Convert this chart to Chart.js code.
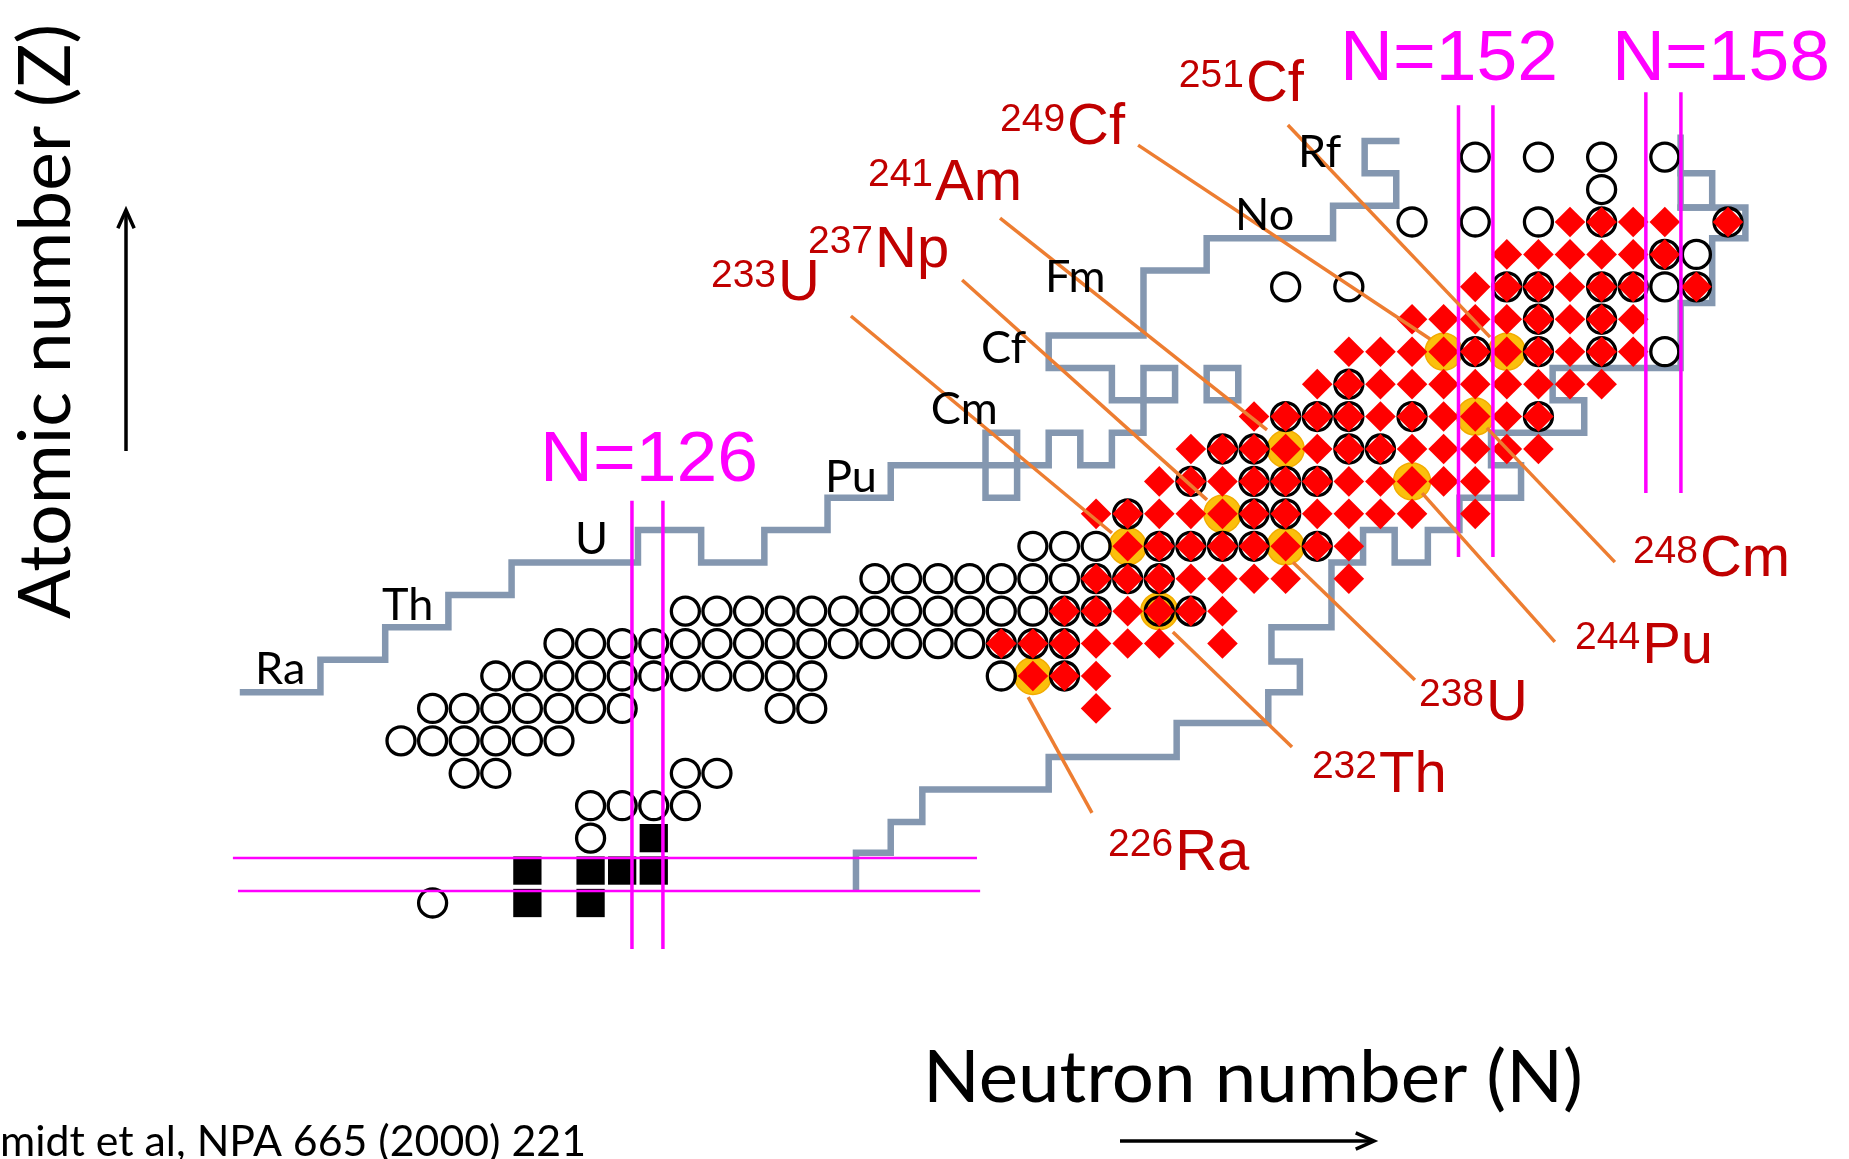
<!DOCTYPE html>
<html>
<head>
<meta charset="utf-8">
<title>Systems investigated in low-energy fission</title>
<script src="https://cdn.jsdelivr.net/npm/chart.js@4.4.1/dist/chart.umd.min.js"></script>
<style>
  html, body { margin: 0; padding: 0; background: #ffffff; }
  #c { display: block; }
</style>
</head>
<body>
<canvas id="c" width="1849" height="1159"></canvas>
<script>
// ---------- Nuclides, one row per proton number: [Z, [neutron numbers N]] ----------

// Fission of secondary beams (open circles)
const openCircleRows = [
  [81, [119]],
  [83, [124]],
  [84, [124, 125, 126, 127]],
  [85, [120, 121, 127, 128]],
  [86, [118, 119, 120, 121, 122, 123]],
  [87, [119, 120, 121, 122, 123, 124, 125, 130, 131]],
  [88, [121, 122, 123, 124, 125, 126, 127, 128, 129, 130, 131, 137, 139]],
  [89, [123, 124, 125, 126, 127, 128, 129, 130, 131, 132, 133, 134, 135, 136, 137, 138, 139]],
  [90, [127, 128, 129, 130, 131, 132, 133, 134, 135, 136, 137, 138, 139, 140, 142, 143]],
  [91, [133, 134, 135, 136, 137, 138, 139, 140, 141, 142]],
  [92, [138, 139, 140, 142, 143, 144, 145, 147]],
  [93, [141, 145, 146]],
  [94, [143, 145, 146, 147]],
  [95, [144, 145, 148, 149]],
  [96, [146, 147, 148, 150, 154]],
  [97, [148]],
  [98, [152, 154, 156, 158]],
  [99, [154, 156]],
  [100, [146, 148, 153, 154, 156, 157, 158, 159]],
  [101, [158, 159]],
  [102, [150, 152, 154, 156, 160]],
  [103, [156]],
  [104, [152, 154, 156, 158]]
];

// Fission studied in other experiments (red diamonds)
const diamondRows = [
  [87, [140]],
  [88, [138, 139, 140]],
  [89, [137, 138, 139, 140, 141, 142, 144]],
  [90, [139, 140, 141, 142, 143, 144]],
  [91, [140, 141, 142, 143, 144, 145, 146, 148]],
  [92, [141, 142, 143, 144, 145, 146, 147, 148]],
  [93, [140, 141, 142, 143, 144, 145, 146, 147, 148, 149, 150, 152]],
  [94, [142, 143, 144, 145, 146, 147, 148, 149, 150, 151, 152]],
  [95, [143, 144, 145, 146, 147, 148, 149, 150, 151, 152, 153, 154]],
  [96, [145, 146, 147, 148, 149, 150, 151, 152, 153, 154]],
  [97, [147, 148, 149, 150, 151, 152, 153, 154, 155, 156]],
  [98, [148, 149, 150, 151, 152, 153, 154, 155, 156, 157]],
  [99, [150, 151, 152, 153, 154, 155, 156, 157]],
  [100, [152, 153, 154, 155, 156, 157, 159]],
  [101, [153, 154, 155, 156, 157, 158]],
  [102, [155, 156, 157, 158, 160]]
];

// Stable nuclei around lead (black squares)
const stableRows = [
  [81, [122, 124]],
  [82, [122, 124, 125, 126]],
  [83, [126]]
];

// Named nuclides (gold markers with labels)
const labelMass = [226, 232, 233, 238, 237, 244, 241, 248, 249, 251];
const labelZ    = [88, 90, 92, 92, 93, 94, 95, 96, 98, 98];
const labelSym  = ['Ra', 'Th', 'U', 'U', 'Np', 'Pu', 'Am', 'Cm', 'Cf', 'Cf'];

// Element names written along the proton-rich edge
const elementSym = ['Ra', 'Th', 'U', 'Pu', 'Cm', 'Cf', 'Fm', 'No', 'Rf'];
const elementZ   = [88, 90, 92, 94, 96, 98, 100, 102, 104];

// Magic numbers marked by line pairs
const shellN = [126, 152, 158];
const shellZ = [82];

// ---------- Layout (in N / Z units of the chart) ----------
const labelAnchorN = [140.38, 146.83, 127.81, 150.22, 130.88, 155.16, 132.78, 156.99, 136.96, 142.62];
const labelAnchorZ = [82.02, 84.42, 99.59, 86.64, 100.61, 88.40, 102.68, 91.08, 104.40, 105.73];
const leaderFrom = [[137.85, 87.35], [142.43, 89.36], [140.50, 92.41], [146.23, 91.51], [143.51, 93.43],
                    [150.32, 93.64], [145.41, 95.59], [152.37, 95.65], [150.57, 98.39], [152.47, 98.45]];
const leaderTo   = [[139.87, 83.78], [146.20, 85.81], [132.24, 99.10], [150.09, 87.88], [135.76, 100.21],
                    [154.52, 89.05], [136.96, 102.12], [156.42, 91.51], [141.33, 104.37], [146.07, 104.99]];

const elementAnchorN = [113.38, 117.40, 123.51, 131.42, 134.77, 136.36, 138.38, 144.40, 146.39];
const elementAnchorZ = [87.75, 89.73, 91.76, 93.67, 95.77, 97.65, 99.84, 101.75, 103.70];

const shellLineN = [[125.31, 126.29], [151.47, 152.56], [157.40, 158.51]];
const shellLineZRange = [[79.58, 93.40], [91.67, 105.60], [93.64, 106.00]];
const shellLineZ = [[82.39, 81.37]];
const shellLineNRange = [[112.68, 136.23], [112.84, 136.33]];
const shellTextN = [122.40, 147.72, 156.33];
const shellTextZ = [94.01, 106.38, 106.38];

// Limits of the known nuclides
const protonSideEdge = [
  [113.0, 87.5], [115.45, 87.5], [115.45, 88.5], [117.5, 88.5], [117.5, 89.5], [119.5, 89.5],
  [119.5, 90.5], [121.5, 90.5], [121.5, 91.5], [125.5, 91.5], [125.5, 92.5], [127.5, 92.5],
  [127.5, 91.5], [129.5, 91.5], [129.5, 92.5], [131.5, 92.5], [131.5, 93.5], [133.5, 93.5],
  [133.5, 94.5], [138.5, 94.5], [138.5, 95.5], [139.5, 95.5], [139.5, 94.5], [140.5, 94.5],
  [140.5, 95.5], [141.5, 95.5], [141.5, 96.5], [140.5, 96.5], [140.5, 97.5], [138.5, 97.5],
  [138.5, 98.5], [141.5, 98.5], [141.5, 100.5], [143.5, 100.5], [143.5, 101.5], [147.5, 101.5],
  [147.5, 102.5], [149.5, 102.5], [149.5, 103.5], [148.5, 103.5], [148.5, 104.5], [149.5, 104.5]
];
const neutronSideEdge = [
  [132.4, 81.5], [132.4, 82.55], [133.5, 82.55], [133.5, 83.5], [134.5, 83.5], [134.5, 84.5],
  [138.5, 84.5], [138.5, 85.5], [142.55, 85.5], [142.55, 86.55], [145.45, 86.55], [145.45, 87.5],
  [146.45, 87.5], [146.45, 88.45], [145.55, 88.45], [145.55, 89.5], [147.45, 89.5], [147.45, 91.5],
  [148.45, 91.5], [148.45, 92.5], [149.45, 92.5], [149.45, 91.5], [150.5, 91.5], [150.5, 92.5],
  [151.5, 92.5], [151.5, 93.5], [153.45, 93.5], [153.45, 94.5], [152.5, 94.5], [152.5, 95.5],
  [155.45, 95.5], [155.45, 96.5], [154.45, 96.5], [154.45, 97.5], [158.5, 97.5], [158.5, 99.5],
  [159.5, 99.5], [159.5, 101.5], [160.55, 101.5], [160.55, 102.45], [158.5, 102.45], [158.5, 104.6]
];
const edgeIslands = [
  [[136.5, 93.5], [137.5, 93.5], [137.5, 95.5], [136.5, 95.5], [136.5, 93.5]],
  [[141.5, 96.5], [142.5, 96.5], [142.5, 97.5], [141.5, 97.5], [141.5, 96.5]],
  [[143.5, 96.5], [144.5, 96.5], [144.5, 97.5], [143.5, 97.5], [143.5, 96.5]],
  [[158.5, 102.45], [159.5, 102.45], [159.5, 103.5], [158.5, 103.5]]
];

// ---------- Helpers ----------
const EDGE = '#8497B0', MAGENTA = '#FF00FF', LEADER = '#ED7D31', RED_TXT = '#C00000';

function rowsToPoints(rows) {
  const pts = [];
  rows.forEach(([z, ns]) => ns.forEach(n => pts.push({ x: n, y: z })));
  return pts;
}
function polyline(points, color, width, order, cap) {
  return {
    type: 'line',
    data: points.map(([n, z]) => ({ x: n, y: z })),
    borderColor: color, borderWidth: width,
    pointRadius: 0, pointHoverRadius: 0, fill: false, tension: 0,
    borderJoinStyle: 'miter', borderCapStyle: cap || 'butt', order
  };
}

const datasets = [];

// known-nuclide limits
datasets.push(polyline(protonSideEdge, EDGE, 6.5, 6, 'square'));
datasets.push(polyline(neutronSideEdge, EDGE, 6.5, 6, 'square'));
edgeIslands.forEach(p => datasets.push(polyline(p, EDGE, 6.5, 6, 'square')));

// gold highlight discs
datasets.push({
  type: 'scatter',
  data: labelMass.map((a, i) => ({ x: a - labelZ[i], y: labelZ[i] })),
  pointStyle: 'circle', pointRadius: 18.5, pointHoverRadius: 18.5,
  backgroundColor: '#FBBF0C', borderColor: '#F2AC00', borderWidth: 1.5, order: 5
});
// open circles
datasets.push({
  type: 'scatter', data: rowsToPoints(openCircleRows),
  pointStyle: 'circle', pointRadius: 14, pointHoverRadius: 14,
  backgroundColor: 'rgba(0,0,0,0)', borderColor: '#000000', borderWidth: 3.3, order: 4
});
// red diamonds
datasets.push({
  type: 'scatter', data: rowsToPoints(diamondRows),
  pointStyle: 'rectRot', pointRadius: 15.3, pointHoverRadius: 15.3,
  backgroundColor: '#FF0000', borderColor: '#FF0000', borderWidth: 0, order: 3
});
// stable nuclei
datasets.push({
  type: 'scatter', data: rowsToPoints(stableRows),
  pointStyle: 'rect', pointRadius: 20, pointHoverRadius: 20,
  backgroundColor: '#000000', borderColor: '#000000', borderWidth: 0, order: 3
});
// shell-closure lines
shellN.forEach((n, i) => {
  const [z0, z1] = shellLineZRange[i];
  shellLineN[i].forEach(xn => datasets.push(polyline([[xn, z0], [xn, z1]], MAGENTA, 3.5, 1)));
});
shellZ.forEach((z, i) => {
  shellLineZ[i].forEach((yz, k) => {
    const [n0, n1] = shellLineNRange[k];
    datasets.push(polyline([[n0, yz], [n1, yz]], MAGENTA, 2.5, 1));
  });
});
// leader lines from labels to nuclides
leaderFrom.forEach((p, i) => datasets.push(polyline([p, leaderTo[i]], LEADER, 3.5, 0)));

// ---------- Text, titles and arrows ----------
function drawText(ctx, s, x, y, font, color, align, sx) {
  ctx.save();
  ctx.font = font;
  ctx.fillStyle = color;
  ctx.textAlign = align || 'left';
  ctx.textBaseline = 'alphabetic';
  ctx.translate(x, y);
  ctx.scale(sx || 1, 1);
  ctx.fillText(s, 0, 0);
  ctx.restore();
}
function textWidth(ctx, s, font) {
  ctx.save();
  ctx.font = font;
  const w = ctx.measureText(s).width;
  ctx.restore();
  return w;
}
function arrow(ctx, x0, y0, x1, y1) {
  const a = Math.atan2(y1 - y0, x1 - x0), L = 20, W = 0.42;
  ctx.save();
  ctx.strokeStyle = '#000'; ctx.lineWidth = 3.5; ctx.lineCap = 'butt';
  ctx.beginPath(); ctx.moveTo(x0, y0); ctx.lineTo(x1, y1); ctx.stroke();
  ctx.beginPath();
  ctx.moveTo(x1 - L * Math.cos(a - W), y1 - L * Math.sin(a - W));
  ctx.lineTo(x1, y1);
  ctx.lineTo(x1 - L * Math.cos(a + W), y1 - L * Math.sin(a + W));
  ctx.stroke();
  ctx.restore();
}

const annotations = {
  id: 'annotations',
  afterDraw(chart) {
    const ctx = chart.ctx;
    const sx = chart.scales.x, sy = chart.scales.y;

    // element names
    const elFont = '45px Lato, "Open Sans", sans-serif';
    elementSym.forEach((s, i) => {
      drawText(ctx, s, sx.getPixelForValue(elementAnchorN[i]), sy.getPixelForValue(elementAnchorZ[i]), elFont, '#000000');
    });

    // nuclide labels: mass number as superscript
    const mainSize = 58, supSize = 39;
    const mainFont = mainSize + 'px "Liberation Sans", Arial, sans-serif';
    const supFont = supSize + 'px "Liberation Sans", Arial, sans-serif';
    const raise = (mainSize - supSize) * 0.716;
    labelMass.forEach((a, i) => {
      const px = sx.getPixelForValue(labelAnchorN[i]);
      const py = sy.getPixelForValue(labelAnchorZ[i]);
      const sup = String(a);
      drawText(ctx, sup, px, py - raise, supFont, RED_TXT);
      const w = textWidth(ctx, sup, supFont);
      drawText(ctx, labelSym[i], px + w + 2, py, mainFont, RED_TXT);
    });

    // magic-number captions
    const shellFont = '71px "Liberation Sans", Arial, sans-serif';
    shellN.forEach((n, i) => {
      const s = 'N=' + n;
      drawText(ctx, s, sx.getPixelForValue(shellTextN[i]), sy.getPixelForValue(shellTextZ[i]), shellFont, MAGENTA,
               'left', 218 / textWidth(ctx, s, shellFont));
    });

    // axis titles
    const titleFont = '71px Lato, "Open Sans", sans-serif';
    const yTitle = 'Atomic number (Z)';
    ctx.save();
    ctx.translate(70, 619);
    ctx.rotate(-Math.PI / 2);
    drawText(ctx, yTitle, 0, 0, titleFont, '#000000', 'left', 595 / textWidth(ctx, yTitle, titleFont));
    ctx.restore();
    const xTitle = 'Neutron number (N)';
    drawText(ctx, xTitle, 923, 1102, titleFont, '#000000', 'left', 660 / textWidth(ctx, xTitle, titleFont));

    arrow(ctx, 126, 451, 126, 210);
    arrow(ctx, 1120, 1141, 1374, 1141);

    // reference
    const refFont = '42px Lato, "Open Sans", sans-serif';
    const refTail = 'midt et al, NPA 665 (2000) 221';
    drawText(ctx, 'K.-H. Schmidt et al, NPA 665 (2000) 221', 586, 1156, refFont, '#000000', 'right',
             586 / textWidth(ctx, refTail, refFont));
  }
};

new Chart(document.getElementById('c'), {
  type: 'scatter',
  data: { datasets },
  options: {
    responsive: false,
    animation: false,
    events: [],
    layout: { padding: 0, autoPadding: false },
    plugins: { legend: { display: false }, tooltip: { enabled: false }, title: { display: false } },
    scales: {
      x: { type: 'linear', min: 105.308, max: 163.830, display: false },
      y: { type: 'linear', min: 73.106, max: 108.845, display: false }
    }
  },
  plugins: [annotations]
});
</script>
</body>
</html>
